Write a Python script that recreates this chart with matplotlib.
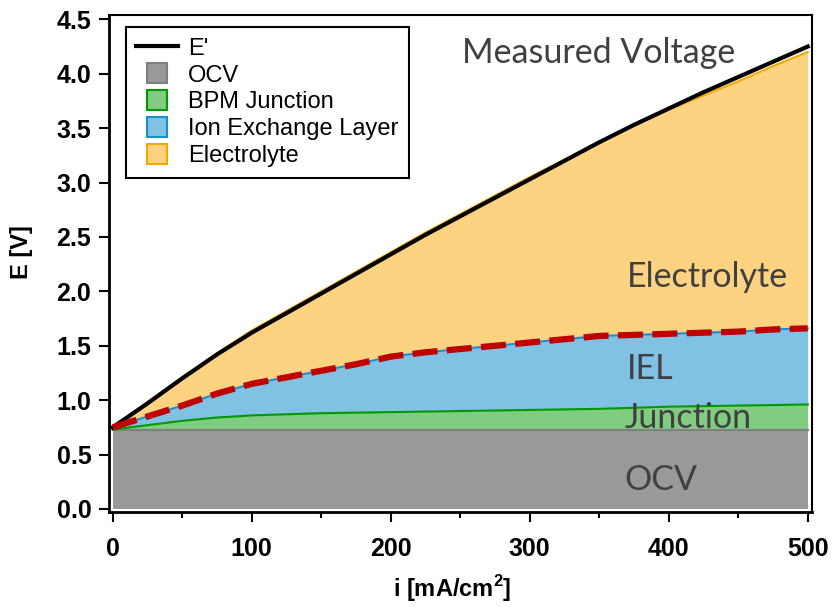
import numpy as np
import matplotlib
matplotlib.use("Agg")
import matplotlib.pyplot as plt
from matplotlib.lines import Line2D

plt.rcParams['font.family'] = ['Liberation Sans', 'DejaVu Sans']
plt.rcParams['mathtext.fontset'] = 'custom'
plt.rcParams['mathtext.bf'] = 'Liberation Sans:bold'
plt.rcParams['mathtext.rm'] = 'Liberation Sans'

# current density [mA/cm2]
current = [0, 25, 50, 75, 100, 125, 150, 175, 200, 225, 250, 275, 300,
           325, 350, 375, 400, 425, 450, 475, 500]
# measured cell voltage E'
e_meas = [0.75, 0.97, 1.20, 1.42, 1.62, 1.80, 1.98, 2.16, 2.34, 2.52, 2.69,
          2.86, 3.03, 3.20, 3.37, 3.53, 3.68, 3.83, 3.97, 4.11, 4.25]
# cumulative tops of the stacked contributions
ocv = [0.73] * 21
junction = [0.73, 0.77, 0.81, 0.84, 0.86, 0.87, 0.88, 0.885, 0.89, 0.895, 0.90,
            0.905, 0.91, 0.915, 0.92, 0.93, 0.94, 0.945, 0.95, 0.955, 0.96]
iel = [0.75, 0.85, 0.95, 1.06, 1.15, 1.21, 1.27, 1.33, 1.40, 1.44, 1.47,
       1.50, 1.53, 1.56, 1.59, 1.60, 1.61, 1.62, 1.63, 1.65, 1.66]
electrolyte = [0.75, 0.98, 1.21, 1.43, 1.64, 1.82, 2.00, 2.18, 2.36, 2.54, 2.71,
               2.88, 3.05, 3.21, 3.37, 3.53, 3.67, 3.80, 3.93, 4.07, 4.20]

gray_f, gray_e = '#999999', '#7f7f7f'
green_f, green_e = '#80cc80', '#009a00'
blue_f, blue_e = '#80c1e4', '#1a8fd0'
orange_f, orange_e = '#fdd382', '#f5a800'
txt_col = '#404040'

fig = plt.figure(figsize=(8.36, 6.07), dpi=100)
ax = fig.add_axes([0.130, 0.1565, 0.841, 0.8188])

ax.fill_between(current, 0, ocv, color=gray_f, lw=0)
ax.fill_between(current, ocv, junction, color=green_f, lw=0)
ax.fill_between(current, junction, iel, color=blue_f, lw=0)
ax.fill_between(current, iel, electrolyte, color=orange_f, lw=0)
ax.plot(current, ocv, color=gray_e, lw=1.5)
ax.plot(current, junction, color=green_e, lw=1.5)
ax.plot(current, iel, color=blue_e, lw=1.5)
ax.plot(current, electrolyte, color=orange_e, lw=1.5)
ax.plot(current, e_meas, color='black', lw=3)
ax.plot(current, iel, color='#c00000', lw=4.5, dashes=(4, 1.5))

ax.set_xlim(-2.9, 502.9)
ax.set_ylim(-0.028, 4.54)
ax.set_xticks(np.arange(0, 501, 100))
ax.set_xticks(np.arange(50, 500, 100), minor=True)
ax.set_yticks(np.arange(0, 4.51, 0.5))
ax.set_yticklabels([f'{v:.1f}' for v in np.arange(0, 4.51, 0.5)])
ax.tick_params(axis='both', which='major', direction='out', length=7, width=1.5,
               labelsize=18)
ax.tick_params(axis='x', which='major', pad=11)
ax.tick_params(axis='y', which='major', pad=5.5)
ax.tick_params(axis='x', which='minor', direction='out', length=4.5, width=1.5)
for lab in ax.get_xticklabels() + ax.get_yticklabels():
    lab.set_fontweight('bold')
for s in ['left', 'bottom']:
    ax.spines[s].set_linewidth(2)
for s in ['top', 'right']:
    ax.spines[s].set_linewidth(1.5)

ax.set_xlabel(r'i [mA/cm$^{\mathbf{2}}$]', fontsize=17, fontweight='bold')
ax.xaxis.set_label_coords(0.489, -0.123)
ax.set_ylabel('E [V]', fontsize=17, fontweight='bold')
ax.yaxis.set_label_coords(-0.108, 0.523)

handles = [
    Line2D([], [], color='black', lw=3),
    Line2D([], [], ls='none', marker='s', markersize=14, markerfacecolor=gray_f,
           markeredgecolor=gray_e, markeredgewidth=1.5),
    Line2D([], [], ls='none', marker='s', markersize=14, markerfacecolor=green_f,
           markeredgecolor=green_e, markeredgewidth=1.5),
    Line2D([], [], ls='none', marker='s', markersize=14, markerfacecolor=blue_f,
           markeredgecolor=blue_e, markeredgewidth=1.5),
    Line2D([], [], ls='none', marker='s', markersize=14, markerfacecolor=orange_f,
           markeredgecolor=orange_e, markeredgewidth=1.5),
]
labels = ["E'", 'OCV', 'BPM Junction', 'Ion Exchange Layer', 'Electrolyte']
leg = ax.legend(handles, labels, loc='upper left', bbox_to_anchor=(0.024, 0.976),
                borderaxespad=0, fontsize=17, handlelength=1.78, labelspacing=0.21,
                handletextpad=0.42, borderpad=0.45,
                fancybox=False, edgecolor='black', framealpha=1)
leg.get_frame().set_linewidth(1.5)

ann = dict(fontsize=24.5, color=txt_col, family='Lato', ha='left', va='baseline')
ax.text(251, 4.10, 'Measured Voltage', **ann)
ax.text(370, 2.04, 'Electrolyte', **ann)
ax.text(370, 1.19, 'IEL', **ann)
ax.text(368, 0.745, 'Junction', **ann)
ax.text(368, 0.175, 'OCV', **ann)

fig.savefig('out.png', dpi=100)
